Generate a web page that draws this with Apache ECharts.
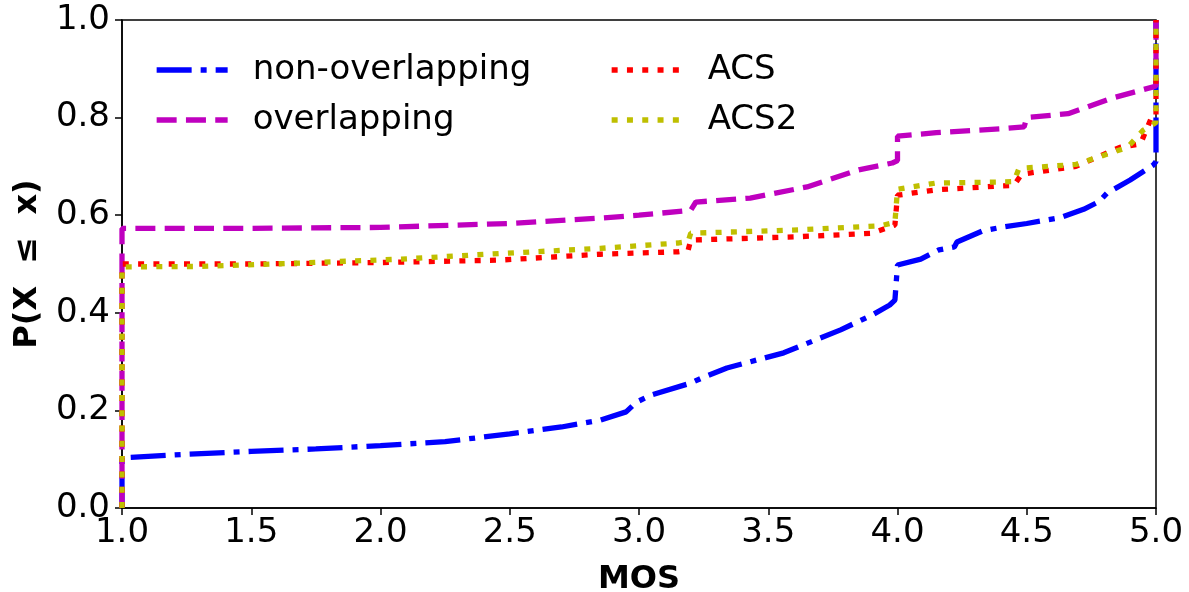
<!DOCTYPE html>
<html><head><meta charset="utf-8">
<script src="https://cdn.jsdelivr.net/npm/echarts@6/dist/echarts.min.js"></script>
<style>html,body{margin:0;padding:0;background:#fff}#c{width:1189px;height:592px}</style>
</head><body><div id="c"></div>
<script>
var seriesNames = ['non-overlapping', 'overlapping', 'ACS', 'ACS2'];
var xTicks = [1.0, 1.5, 2.0, 2.5, 3.0, 3.5, 4.0, 4.5, 5.0];
var yTicks = [0.0, 0.2, 0.4, 0.6, 0.8, 1.0];

var nonOverlapping = [[1,0],[1,0.103],[1.25,0.110],[1.5,0.116],[1.75,0.121],[2.0,0.128],[2.25,0.136],[2.5,0.152],[2.7,0.166],[2.85,0.18],[2.95,0.197],[2.99,0.217],[3.05,0.232],[3.2,0.256],[3.25,0.268],[3.34,0.287],[3.56,0.318],[3.78,0.365],[3.9,0.395],[3.97,0.416],[3.99,0.426],[4.0,0.498],[4.09,0.51],[4.16,0.529],[4.22,0.535],[4.23,0.545],[4.33,0.568],[4.4,0.575],[4.5,0.583],[4.63,0.595],[4.72,0.612],[4.78,0.628],[4.81,0.645],[4.9,0.672],[4.99,0.703],[5.0,0.71],[5.0,1.0]];
var overlapping = [[1,0],[1,0.573],[1.5,0.573],[2.0,0.575],[2.5,0.583],[2.85,0.594],[3.0,0.6],[3.2,0.61],[3.22,0.627],[3.43,0.635],[3.65,0.658],[3.85,0.693],[3.98,0.707],[4.0,0.712],[4.0,0.762],[4.15,0.769],[4.4,0.777],[4.49,0.781],[4.5,0.8],[4.66,0.808],[4.83,0.84],[4.99,0.863],[5,0.865],[5,1]];
var acs = [[1,0],[1,0.5],[1.5,0.5],[2.0,0.503],[2.46,0.508],[2.85,0.52],[3.15,0.525],[3.19,0.528],[3.2,0.549],[3.62,0.556],[3.9,0.563],[3.96,0.574],[3.99,0.58],[4.0,0.641],[4.15,0.652],[4.4,0.66],[4.45,0.661],[4.48,0.684],[4.69,0.70],[4.86,0.739],[4.94,0.746],[4.98,0.797],[5,0.8],[5,1]];
var acs2 = [[1,0],[1,0.494],[1.3,0.495],[1.69,0.502],[2.08,0.51],[2.41,0.52],[2.85,0.532],[3.15,0.543],[3.19,0.546],[3.2,0.563],[3.62,0.57],[3.93,0.578],[3.99,0.585],[4.0,0.653],[4.15,0.666],[4.4,0.668],[4.45,0.669],[4.47,0.696],[4.69,0.704],[4.89,0.739],[4.95,0.774],[5,0.79],[5,1]];

var FONT = 'DejaVu Sans';
var chart = echarts.init(document.getElementById('c'), null, {renderer: 'canvas'});
function mk(name, data, color, dash) {
  return {name: name, type: 'line', data: data, symbol: 'none', animation: false,
    lineStyle: {color: color, width: 5.3, type: dash, cap: 'butt'}, itemStyle: {color: color}};
}
var legendText = {fontFamily: FONT, fontSize: 34, color: '#000', padding: [0, 0, 0, 20]};
function lg(names, left) {
  return {data: names, orient: 'vertical', left: left, top: 53, itemWidth: 71, itemHeight: 20, itemGap: 16,
    textStyle: legendText, padding: 0, itemStyle: {opacity: 0}, lineStyle: {width: 5.3}};
}
chart.setOption({
  animation: false,
  textStyle: {fontFamily: FONT},
  grid: {left: 122, right: 33, top: 20, bottom: 84, show: true, borderColor: '#000', borderWidth: 1.5,
    containLabel: false, outerBoundsMode: 'none'},
  legend: [lg([seriesNames[0], seriesNames[1]], 154), lg([seriesNames[2], seriesNames[3]], 609)],
  xAxis: {type: 'value', min: 1, max: 5, interval: 0.5, name: 'MOS', nameLocation: 'middle', nameGap: 56,
    nameTextStyle: {fontFamily: FONT, fontSize: 32, fontWeight: 'bold', color: '#000'},
    axisLine: {show: true, lineStyle: {color: '#000', width: 1.5}},
    axisTick: {show: true, length: 7, lineStyle: {color: '#000', width: 1.5}},
    splitLine: {show: false},
    axisLabel: {fontFamily: FONT, fontSize: 34, color: '#000', margin: 8, formatter: function (v) { return xTicks.indexOf(v) >= 0 ? v.toFixed(1) : ''; }}},
  yAxis: {type: 'value', min: 0, max: 1, interval: 0.2, name: 'P(X  \u2264  x)', nameLocation: 'middle', nameGap: 78, nameRotate: 90,
    nameTextStyle: {fontFamily: FONT, fontSize: 32, fontWeight: 'bold', color: '#000'},
    axisLine: {show: true, lineStyle: {color: '#000', width: 1.5}},
    axisTick: {show: true, length: 7, lineStyle: {color: '#000', width: 1.5}},
    splitLine: {show: false},
    axisLabel: {fontFamily: FONT, fontSize: 34, color: '#000', margin: 12, formatter: function (v) { return v.toFixed(1); }}},
  series: [
    mk(seriesNames[0], nonOverlapping, '#0000ff', [35, 9, 6, 9]),
    mk(seriesNames[1], overlapping, '#bf00bf', [20, 9.3]),
    mk(seriesNames[2], acs, '#ff0000', [6, 9.3]),
    mk(seriesNames[3], acs2, '#bfbf00', [6, 9.3])
  ]
});
</script></body></html>
